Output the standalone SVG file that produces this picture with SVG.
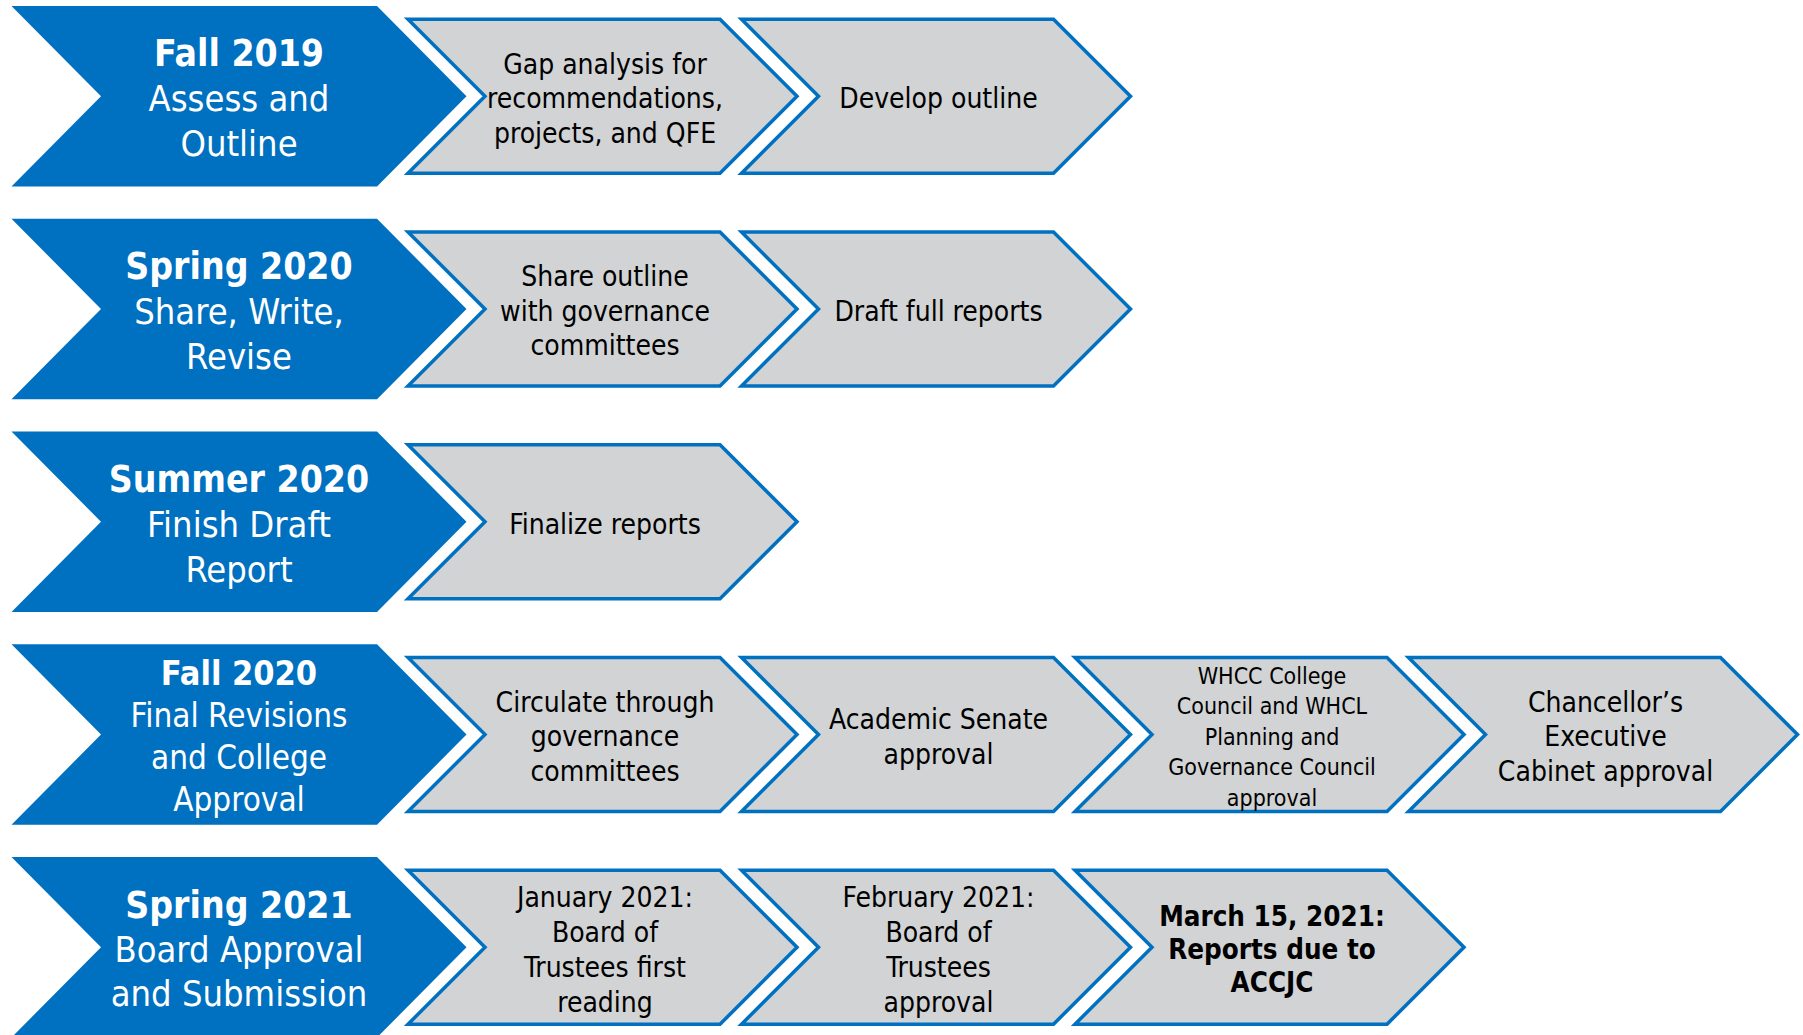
<svg xmlns="http://www.w3.org/2000/svg" width="1803" height="1035" viewBox="0 0 1803 1035">
<style>
.hd{fill:#0070C0;stroke:none}
.st{fill:#D1D3D4;stroke:#0070C0;stroke-width:3.5;stroke-linejoin:miter}
text{font-family:"DejaVu Sans Condensed","DejaVu Sans",sans-serif;text-anchor:middle}
.ht{fill:#FFFFFF;font-size:36px}
.hb{font-weight:bold;font-size:37px}
.h4{font-size:33px}
.h4b{font-weight:bold;font-size:34px}
.gt{fill:#000000;font-size:28px}
.sm{font-size:23px}
.bd{font-weight:bold;font-size:27.5px}
</style>
<rect width="1803" height="1035" fill="#FFFFFF"/>
<defs>
<polygon id="head" points="11.5,-90.25 377,-90.25 466.5,0 377,90.25 11.5,90.25 101,0"/>
<polygon id="step" points="0,-77 312,-77 389,0 312,77 0,77 77,0"/>
</defs>

<g id="row1-head"><use href="#head" class="hd" y="96.25"/>
<text class="ht"><tspan class="hb" x="239" y="66">Fall 2019</tspan><tspan x="239" y="111">Assess and</tspan><tspan x="239" y="156">Outline</tspan></text></g>
<g id="row1-step1"><use href="#step" class="st" x="408" y="96.25"/>
<text class="gt"><tspan x="605" y="73.5">Gap analysis for</tspan><tspan x="605" y="108">recommendations,</tspan><tspan x="605" y="142.5">projects, and QFE</tspan></text></g>
<g id="row1-step2"><use href="#step" class="st" x="741.5" y="96.25"/>
<text class="gt" x="938.5" y="108">Develop outline</text></g>

<g id="row2-head"><use href="#head" class="hd" y="309"/>
<text class="ht"><tspan class="hb" x="239" y="279">Spring 2020</tspan><tspan x="239" y="324">Share, Write,</tspan><tspan x="239" y="369">Revise</tspan></text></g>
<g id="row2-step1"><use href="#step" class="st" x="408" y="309"/>
<text class="gt"><tspan x="605" y="286">Share outline</tspan><tspan x="605" y="320.5">with governance</tspan><tspan x="605" y="355">committees</tspan></text></g>
<g id="row2-step2"><use href="#step" class="st" x="741.5" y="309"/>
<text class="gt" x="938.5" y="320.5">Draft full reports</text></g>

<g id="row3-head"><use href="#head" class="hd" y="521.75"/>
<text class="ht"><tspan class="hb" x="239" y="491.5">Summer 2020</tspan><tspan x="239" y="536.5">Finish Draft</tspan><tspan x="239" y="581.5">Report</tspan></text></g>
<g id="row3-step1"><use href="#step" class="st" x="408" y="521.75"/>
<text class="gt" x="605" y="533.5">Finalize reports</text></g>

<g id="row4-head"><use href="#head" class="hd" y="734.5"/>
<text class="ht h4"><tspan class="h4b" x="239" y="685">Fall 2020</tspan><tspan x="239" y="727">Final Revisions</tspan><tspan x="239" y="769">and College</tspan><tspan x="239" y="811">Approval</tspan></text></g>
<g id="row4-step1"><use href="#step" class="st" x="408" y="734.5"/>
<text class="gt"><tspan x="605" y="711.7">Circulate through</tspan><tspan x="605" y="746.2">governance</tspan><tspan x="605" y="780.7">committees</tspan></text></g>
<g id="row4-step2"><use href="#step" class="st" x="741.5" y="734.5"/>
<text class="gt"><tspan x="938.5" y="729">Academic Senate</tspan><tspan x="938.5" y="763.5">approval</tspan></text></g>
<g id="row4-step3"><use href="#step" class="st" x="1075" y="734.5"/>
<text class="gt sm"><tspan x="1272" y="683.5">WHCC College</tspan><tspan x="1272" y="714">Council and WHCL</tspan><tspan x="1272" y="744.5">Planning and</tspan><tspan x="1272" y="775">Governance Council</tspan><tspan x="1272" y="805.5">approval</tspan></text></g>
<g id="row4-step4"><use href="#step" class="st" x="1408.5" y="734.5"/>
<text class="gt"><tspan x="1605.5" y="711.7">Chancellor’s</tspan><tspan x="1605.5" y="746.2">Executive</tspan><tspan x="1605.5" y="780.7">Cabinet approval</tspan></text></g>

<g id="row5-head"><use href="#head" class="hd" y="947.25"/>
<text class="ht"><tspan class="hb" x="239" y="918">Spring 2021</tspan><tspan x="239" y="962">Board Approval</tspan><tspan x="239" y="1006">and Submission</tspan></text></g>
<g id="row5-step1"><use href="#step" class="st" x="408" y="947.25"/>
<text class="gt"><tspan x="605" y="906.5">January 2021:</tspan><tspan x="605" y="941.5">Board of</tspan><tspan x="605" y="976.5">Trustees first</tspan><tspan x="605" y="1011.5">reading</tspan></text></g>
<g id="row5-step2"><use href="#step" class="st" x="741.5" y="947.25"/>
<text class="gt"><tspan x="938.5" y="906.5">February 2021:</tspan><tspan x="938.5" y="941.5">Board of</tspan><tspan x="938.5" y="976.5">Trustees</tspan><tspan x="938.5" y="1011.5">approval</tspan></text></g>
<g id="row5-step3"><use href="#step" class="st" x="1075" y="947.25"/>
<text class="gt bd"><tspan x="1272" y="925.6">March 15, 2021:</tspan><tspan x="1272" y="959">Reports due to</tspan><tspan x="1272" y="992.4">ACCJC</tspan></text></g>
</svg>
